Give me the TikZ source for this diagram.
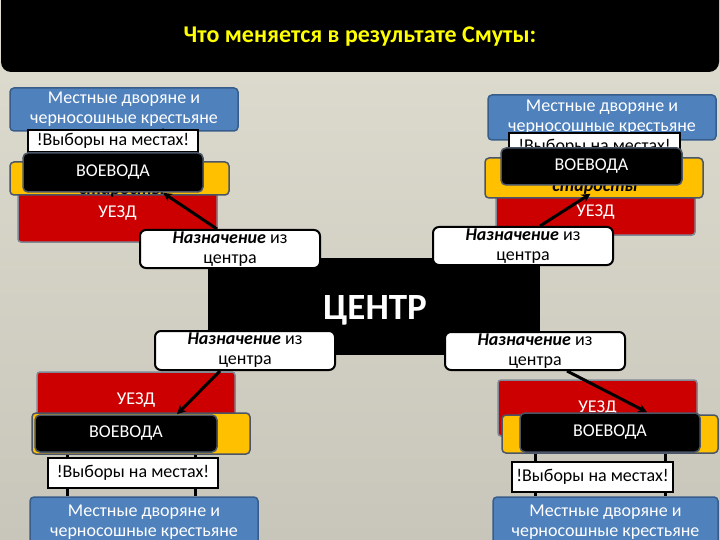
\documentclass[tikz,border=0pt]{standalone}
\usepackage{fontspec}
\setmainfont{Carlito}
\usetikzlibrary{arrows.meta,calc}
\definecolor{bgtop}{HTML}{DFDDD0}
\definecolor{bgbot}{HTML}{C8C6BA}
\definecolor{bluef}{HTML}{4F81BD}
\definecolor{blued}{HTML}{385D8A}
\definecolor{goldf}{HTML}{FFC000}
\definecolor{redf}{HTML}{CC0000}
\definecolor{edgeg}{HTML}{4A5568}
\definecolor{titley}{HTML}{FFFF00}
\tikzset{
 box/.style={rectangle, inner sep=0pt, align=center, font=\fontsize{18}{20}\selectfont},
 blueb/.style={box, fill=bluef, draw=blued, line width=1.5pt, rounded corners=4pt, text=white},
 whiteb/.style={box, fill=white, draw=black, line width=1.2pt, text=black},
 yellowb/.style={box, fill=goldf, draw=edgeg, line width=1.5pt, rounded corners=4pt},
 blackb/.style={box, fill=black, draw=edgeg, line width=1.5pt, rounded corners=5pt, text=white},
 redb/.style={box, fill=redf, draw=edgeg!70, line width=1.5pt, rounded corners=3pt, text=white},
 nazb/.style={box, fill=white, draw=black, line width=2pt, rounded corners=6pt, text=black},
 arr/.style={line width=3pt, -{Stealth[length=9pt,width=9pt]}},
 vline/.style={line width=3pt},
 starosty/.style={font=\fontsize{18}{20}\selectfont\bfseries\itshape, text=black, inner sep=0pt},
}
\newcommand{\naztext}{\textbf{\textit{Назначение}} из\\центра}
\begin{document}
\begin{tikzpicture}[x=1pt,y=-1pt]
\useasboundingbox (0,0) rectangle (720,540);
\shade[top color=bgtop, bottom color=bgbot] (0,0) rectangle (720,540);
% banner
\node[fill=black, rounded corners=10pt, minimum width=718pt, minimum height=84pt, inner sep=0pt] (banner) at (360,30) {};
\node[font=\fontsize{24}{26}\selectfont\bfseries, text=titley] (title) at (360,37) {Что меняется в результате Смуты:};
% center
\node[fill=black, minimum width=332pt, minimum height=97pt, inner sep=0pt] (centr) at (374,306.5) {};
\node[text=white, font=\fontsize{37}{40}\selectfont\bfseries, inner sep=0pt] (centrT) at (375,310) {ЦЕНТР};

% ---------- top left
\node[blueb, minimum width=228pt, minimum height=43pt] (bTL) at (124,109.5) {Местные дворяне и\\черносошные крестьяне};
\coordinate (hTL) at (163,0);
\node[whiteb, minimum width=170pt, minimum height=22pt, fill=none, draw=none] (wTLg) at (113,141) {};
\draw[arr] (wTLg.south -| hTL) -- ($(bTL.south -| hTL)+(0,-4)$);
\node[whiteb, minimum width=170pt, minimum height=22pt] (wTL) at (113,141) {!Выборы на местах!};
\node[redb, minimum width=199pt, minimum height=57pt] (rTL) at (117.5,213.5) {УЕЗД};
\node[yellowb, minimum width=219pt, minimum height=33pt] (yTL) at (119.5,178.5) {};
\node[starosty] (sTL) at (122,191) {старосты};
\node[blackb, minimum width=180pt, minimum height=39pt] (vTL) at (113,172.5) {ВОЕВОДА};
\node[nazb, minimum width=180pt, minimum height=38pt] (nTL) at (230,249) {\naztext};
\draw[arr] ($(nTL.north)+(-13,0)$) -- ($(vTL.south)+(50,0)$);

% ---------- top right
\node[blueb, minimum width=228pt, minimum height=45pt] (bTR) at (602,117.5) {Местные дворяне и\\черносошные крестьяне};
\node[whiteb, minimum width=171pt, minimum height=28pt] (wTR) at (594.5,147) {!Выборы на местах!};
\node[redb, minimum width=199pt, minimum height=46pt] (rTR) at (595.5,212) {УЕЗД};
\node[yellowb, minimum width=218pt, minimum height=40pt] (yTR) at (594,178) {};
\node[starosty] (sTR) at (595,188) {старосты};
\node[blackb, minimum width=181pt, minimum height=37pt] (vTR) at (591.5,166.5) {ВОЕВОДА};
\node[nazb, minimum width=180pt, minimum height=38pt] (nTR) at (523,246) {\naztext};
\draw[arr] ($(nTR.north)+(17,0)$) -- ($(vTR.south)+(-1,8)$);

% ---------- bottom left
\node[blueb, minimum width=228pt, minimum height=50pt] (bBL) at (144,522) {Местные дворяне и\\черносошные крестьяне};
\node[blackb, minimum width=182pt, minimum height=37pt, fill=none, draw=none] (vBLg) at (126,433.5) {};
\coordinate (lBL1) at ($(vBLg.south)+(-59,0)$);
\coordinate (lBL2) at ($(vBLg.south)+(69,0)$);
\draw[vline] (lBL1) -- (lBL1 |- bBL.north);
\draw[vline] (lBL2) -- (lBL2 |- bBL.north);
\node[whiteb, minimum width=170pt, minimum height=30pt] (wBL) at (133,473) {!Выборы на местах!};
\node[redb, minimum width=198pt, minimum height=56pt] (rBL) at (136,400) {УЕЗД};
\node[yellowb, minimum width=218pt, minimum height=41pt] (yBL) at (141,433.5) {};
\node[blackb, minimum width=182pt, minimum height=37pt] (vBL) at (126,433.5) {ВОЕВОДА};
\node[nazb, minimum width=180pt, minimum height=39pt] (nBL) at (245,350.5) {\naztext};
\draw[arr] ($(nBL.south)+(-25,0)$) -- ($(vBL.north)+(51,0)$);

% ---------- bottom right
\node[blueb, minimum width=225pt, minimum height=50pt] (bBR) at (605.5,522) {Местные дворяне и\\черносошные крестьяне};
\node[blackb, minimum width=180pt, minimum height=39pt, fill=none, draw=none] (vBRg) at (610,432.5) {};
\coordinate (lBR1) at ($(vBRg.south)+(-75,0)$);
\coordinate (lBR2) at ($(vBRg.south)+(55,0)$);
\draw[vline] (lBR1) -- (lBR1 |- bBR.north);
\draw[vline] (lBR2) -- (lBR2 |- bBR.north);
\node[whiteb, minimum width=161pt, minimum height=30pt] (wBR) at (592.5,477) {!Выборы на местах!};
\node[redb, minimum width=199pt, minimum height=56pt] (rBR) at (597.5,408) {УЕЗД};
\node[yellowb, minimum width=216pt, minimum height=38pt] (yBR) at (610,434) {};
\node[blackb, minimum width=180pt, minimum height=39pt] (vBR) at (610,432.5) {ВОЕВОДА};
\node[nazb, minimum width=180pt, minimum height=38pt] (nBR) at (535,351) {\naztext};
\draw[arr] ($(nBR.south)+(32,0)$) -- ($(vBR.north)+(37,0)$);
\end{tikzpicture}
\end{document}
